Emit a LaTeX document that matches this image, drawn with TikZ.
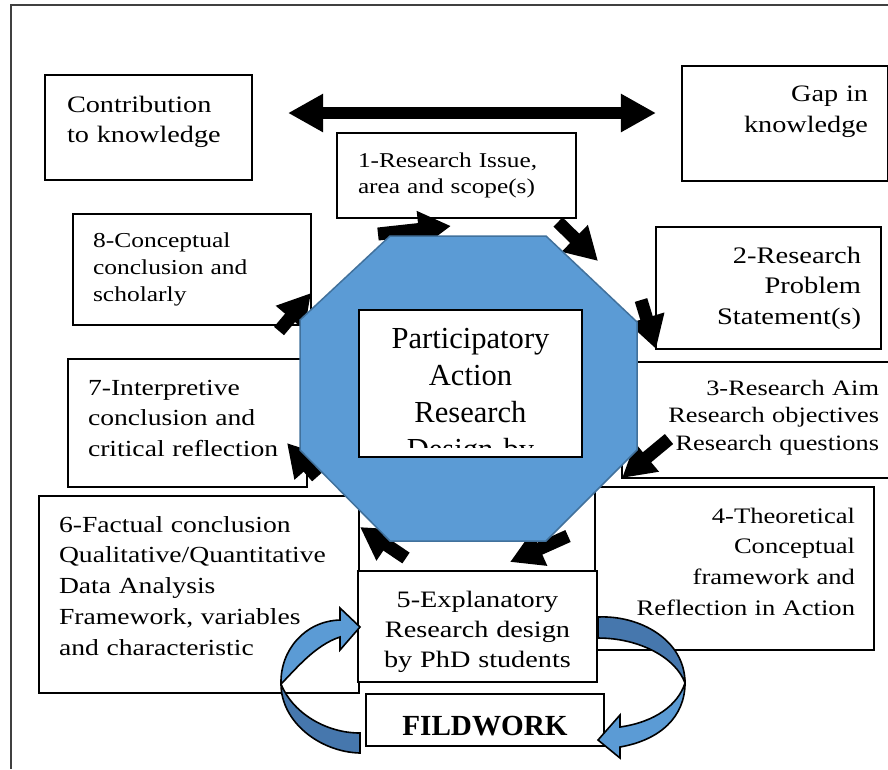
\documentclass[tikz,border=0pt]{standalone}
\usepackage{fontspec}
\setmainfont{Liberation Serif}
\newfontfamily\boxfont[FakeStretch=1.2]{Liberation Serif}
\usetikzlibrary{arrows.meta,calc}
\newdimen\pxu \pxu=0.02cm
\definecolor{hubblue}{HTML}{5B9BD5}
\definecolor{hubedge}{HTML}{41719C}
\definecolor{ribbondark}{HTML}{4677AD}

\begin{document}
\begin{tikzpicture}
  [x=0.02cm, y=-0.02cm,
   box/.style={draw, fill=white, line width=1.2\pxu, anchor=north west,
               inner ysep=0pt, outer sep=0pt},
   boxdim/.style n args={4}{inner xsep=#1\pxu, text width=#2\pxu,
               text height=#3\pxu, text depth=#4\pxu},
   fs/.style 2 args={font=\boxfont\fontsize{#1}{#2}\selectfont},
   flow/.style={line width=13\pxu, -{Triangle[width=20pt,length=18.5pt]}},
   link/.style={line width=12\pxu,
               {Triangle[width=20.5pt,length=20pt]}-{Triangle[width=20.5pt,length=20pt]}},
   ribbon/.style={draw=black, line width=1.6\pxu, line join=miter}]

  \useasboundingbox (0,0) rectangle (888,769);
  \draw[line width=1.2\pxu, black!75] (888,5) -- (11,5) -- (11,769);

  % outer pair
  \node[box, fs={13.4}{17.6}, align=left, boxdim={22}{163}{37}{68}] (contrib) at (45,75) {Contribution\\to knowledge};
  \node[box, fs={13.4}{18.2}, align=right, boxdim={20}{166}{35}{80}] (gap) at (682,66) {Gap in\\knowledge};

  % the eight steps
  \node[box, fs={12}{15.3}, align=left, boxdim={21}{197}{34}{51}] (issue) at (337,133) {1-Research Issue,\\area and scope(s)};
  \node[box, fs={13.5}{17.6}, align=right, boxdim={20}{185}{36}{86}] (problem) at (656,227) {2-Research\\Problem\\Statement(s)};
  \node[box, fs={12.5}{15.9}, align=right, boxdim={21}{236}{33}{83}] (aim) at (622,362) {3-Research Aim\\Research objectives\\Research questions};
  \node[box, fs={12.6}{17.6}, align=right, boxdim={19}{241}{36}{127}] (theory) at (595,487) {4-Theoretical\\Conceptual\\framework and\\Reflection in Action};
  \node[box, fs={13.1}{17.6}, align=left, boxdim={20}{280}{36}{161}] (factual) at (39,496) {6-Factual conclusion\\Qualitative/Quantitative\\Data Analysis\\Framework, variables\\and characteristic};
  \node[box, fs={13.4}{17.1}, align=center, boxdim={10}{219}{36}{75}] (design) at (358,571) {5-Explanatory\\Research design\\by PhD students};
  \node[box, fs={13.1}{17.6}, align=left, boxdim={20}{199}{36}{92}] (interp) at (68,359) {7-Interpretive\\conclusion and\\critical reflection};
  \node[box, fs={12.1}{15.6}, align=left, boxdim={20}{198}{33}{78}] (concept) at (73,214) {8-Conceptual\\conclusion and\\scholarly};
  \node[box, font=\bfseries\fontsize{16.6}{20}\selectfont, align=center, boxdim={10}{218}{41}{11}] (field) at (366,694) {FILDWORK};

  \coordinate (l1) at (288,113);
  \coordinate (l2) at (656,113);
  \draw[link] (l1) -- (l2);

  % short block arrows round the hub
  \foreach \i/\s/\e in {1/{378,234}/{451,226}, 2/{558,222}/{598,261},
                        3/{641,300}/{656,349}, 4/{669,439}/{622,478},
                        5/{568,536}/{510,562}, 6/{406,558}/{360,527},
                        7/{317,477}/{287,443}, 8/{279,331}/{311,293}}
  {
    \coordinate (s\i) at (\s);
    \coordinate (e\i) at (\e);
    \draw[flow] (s\i) -- (e\i);
  }

  % hub
  \draw[fill=hubblue, draw=hubedge, line width=1.5\pxu]
    (390,236) -- (546,236) -- (637,322) -- (637,450) -- (546,541)
    -- (390,541) -- (300,450) -- (300,320) -- cycle;

  \node[box, boxdim={5}{213}{38}{109}] (core) at (359,310) {};
  \begin{scope}
    \clip (core.north west) rectangle ($(core.south east)+(0,-10)$);
    \node[anchor=north west, inner ysep=0pt, outer sep=0pt, align=center,
          font=\fontsize{17.4}{21.1}\selectfont, boxdim={5}{213}{38}{109}]
      (coretext) at (core.north west) {Participatory\\Action\\Research\\Design by};
  \end{scope}

  % fieldwork loop, left
  \draw[ribbon, fill=hubblue] (340,620) -- (340,608) -- (360,627) -- (340,650) -- (340,637)
    .. controls (315,645) and (295,670) .. (281,684)
    .. controls (280,650) and (305,621) .. (340,620) -- cycle;
  \draw[ribbon, fill=ribbondark] (281,684) .. controls (281,722) and (320,752) .. (360,753)
    -- (360,733) .. controls (325,733) and (292,712) .. (281,684) -- cycle;

  % fieldwork loop, right
  \draw[ribbon, fill=ribbondark] (598,617) .. controls (640,615) and (685,640) .. (685,683)
    .. controls (676,658) and (640,638) .. (598,638) -- cycle;
  \draw[ribbon, fill=hubblue] (685,683) .. controls (685,717) and (660,740) .. (620,747)
    -- (620,758) -- (598,740) -- (620,715) -- (620,727)
    .. controls (655,722) and (678,705) .. (685,683) -- cycle;
\end{tikzpicture}
\end{document}
